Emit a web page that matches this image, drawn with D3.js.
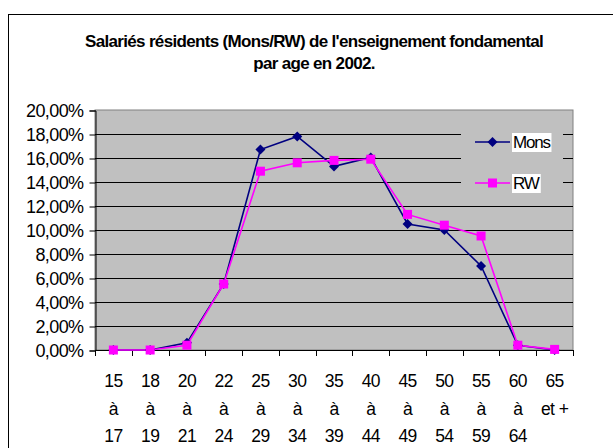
<!DOCTYPE html>
<html>
<head>
<meta charset="utf-8">
<script src="https://cdn.jsdelivr.net/npm/d3@7"></script>
<style>
  html, body { margin: 0; padding: 0; background: #fff; }
  svg { display: block; }
  text { font-family: "Liberation Sans", Arial, sans-serif; fill: #000; }
</style>
</head>
<body>
<svg id="chart" width="613" height="448"></svg>
<script>
// Age groups (three label lines each)
const ageFrom = ["15", "18", "20", "22", "25", "30", "35", "40", "45", "50", "55", "60", "65"];
const ageMid  = ["à", "à", "à", "à", "à", "à", "à", "à", "à", "à", "à", "à", "et +"];
const ageTo   = ["17", "19", "21", "24", "29", "34", "39", "44", "49", "54", "59", "64", ""];

// Share of resident employees per age group (%)
const mons = [0, 0, 0.6, 5.5, 16.7, 17.8, 15.3, 16.05, 10.5, 10.0, 7.0, 0.4, 0];
const rw   = [0, 0, 0.4, 5.5, 14.9, 15.6, 15.8, 15.9, 11.3, 10.4, 9.5, 0.4, 0.05];

const yTicks = [0, 2, 4, 6, 8, 10, 12, 14, 16, 18, 20];
const titleLines = ["Salariés résidents (Mons/RW) de l'enseignement fondamental", "par age en 2002."];

const svg = d3.select("#chart");
const plot = { left: 95, right: 573, top: 110, bottom: 350 };

// Outer frame
svg.append("rect").attr("x", 8.5).attr("y", 14.5).attr("width", 640).attr("height", 460)
  .attr("fill", "#fff").attr("stroke", "#000").attr("stroke-width", 1);

// Title: bold, tightly tracked so the first line spans a fixed width
const title = svg.append("g").selectAll("text").data(titleLines).join("text")
  .attr("x", 314).attr("y", (d, i) => 47 + i * 22)
  .attr("text-anchor", "middle")
  .attr("font-size", 17).attr("font-weight", "bold")
  .text(d => d);
const first = title.nodes()[0];
const natural = first.getComputedTextLength();
const spacing = (458 - natural) / titleLines[0].length;
title.attr("letter-spacing", spacing);

const x = d3.scaleBand().domain(ageFrom.map((d, i) => i)).range([plot.left, plot.right]).padding(0);
const y = d3.scaleLinear().domain([0, 20]).range([plot.bottom, plot.top]);
const cx = i => x(i) + x.bandwidth() / 2;

// Plot area
svg.append("rect").attr("x", plot.left).attr("y", plot.top)
  .attr("width", plot.right - plot.left).attr("height", plot.bottom - plot.top)
  .attr("fill", "#c0c0c0").attr("stroke", "#808080").attr("stroke-width", 1);

// Gridlines
svg.append("g").selectAll("line").data(yTicks.filter(d => d > 0 && d < 20)).join("line")
  .attr("x1", plot.left).attr("x2", plot.right)
  .attr("y1", d => Math.round(y(d)) + 0.5).attr("y2", d => Math.round(y(d)) + 0.5)
  .attr("stroke", "#000").attr("stroke-width", 1);

// Y axis
const yAxis = d3.axisLeft(y).tickValues(yTicks).tickSize(6).tickPadding(6)
  .tickFormat(d => d3.format(".2f")(d).replace(".", ",") + "%");
const gy = svg.append("g").attr("transform", `translate(${plot.left + 0.5},0.5)`).call(yAxis);
gy.select(".domain").attr("stroke", "#000");
gy.selectAll(".tick line").attr("stroke", "#000");
gy.selectAll(".tick text").attr("font-size", 18).attr("letter-spacing", -0.6)
  .attr("font-family", "Liberation Sans, Arial, sans-serif").attr("fill", "#000");

// X axis: ticks on category boundaries
const gx = svg.append("g");
gx.append("line").attr("x1", plot.left).attr("x2", plot.right)
  .attr("y1", plot.bottom + 0.5).attr("y2", plot.bottom + 0.5).attr("stroke", "#000");
const bounds = d3.range(ageFrom.length + 1).map(i => plot.left + i * x.bandwidth());
gx.selectAll("line.tk").data(bounds).join("line").attr("class", "tk")
  .attr("x1", d => Math.round(d) + 0.5).attr("x2", d => Math.round(d) + 0.5)
  .attr("y1", plot.bottom).attr("y2", plot.bottom + 6).attr("stroke", "#000");

const labels = svg.append("g").selectAll("g").data(ageFrom.map((d, i) => i)).join("g");
[ageFrom, ageMid, ageTo].forEach((arr, k) => {
  labels.append("text")
    .attr("x", i => cx(i)).attr("y", 387 + k * 27.5)
    .attr("text-anchor", "middle").attr("font-size", 17.5).attr("letter-spacing", -0.6)
    .text(i => arr[i]);
});

// Series
const line = d3.line().x((d, i) => cx(i)).y(d => y(d));
svg.append("path").datum(mons).attr("d", line)
  .attr("fill", "none").attr("stroke", "#000080").attr("stroke-width", 1.6);
svg.append("path").datum(rw).attr("d", line)
  .attr("fill", "none").attr("stroke", "#ff00ff").attr("stroke-width", 1.6);

const diamond = (cxp, cyp, r) => `M${cxp},${cyp - r}L${cxp + r},${cyp}L${cxp},${cyp + r}L${cxp - r},${cyp}Z`;
svg.append("g").selectAll("path").data(mons).join("path")
  .attr("d", (d, i) => diamond(cx(i), y(d), 5)).attr("fill", "#000080");
svg.append("g").selectAll("rect").data(rw).join("rect")
  .attr("x", (d, i) => cx(i) - 4.5).attr("y", d => y(d) - 4.5)
  .attr("width", 9).attr("height", 9).attr("fill", "#ff00ff");

// Legend
const lg = svg.append("g");
lg.append("rect").attr("x", 461).attr("y", 124).attr("width", 102).attr("height", 78).attr("fill", "#c0c0c0");
const items = [{ name: "Mons", color: "#000080", shape: "d", yy: 142 }, { name: "RW", color: "#ff00ff", shape: "s", yy: 183 }];
items.forEach(it => {
  lg.append("line").attr("x1", 475).attr("x2", 510).attr("y1", it.yy).attr("y2", it.yy)
    .attr("stroke", it.color).attr("stroke-width", 1.6);
  if (it.shape === "d") lg.append("path").attr("d", diamond(492.5, it.yy, 5)).attr("fill", it.color);
  else lg.append("rect").attr("x", 488).attr("y", it.yy - 4.5).attr("width", 9).attr("height", 9).attr("fill", it.color);
  const t = lg.append("text").attr("x", 513).attr("y", it.yy + 6).attr("font-size", 17).attr("letter-spacing", -1.2).text(it.name);
  const bb = t.node().getBBox();
  lg.insert("rect", () => t.node()).attr("x", bb.x - 1).attr("y", bb.y).attr("width", bb.width + 2).attr("height", bb.height).attr("fill", "#fff");
});
</script>
</body>
</html>
